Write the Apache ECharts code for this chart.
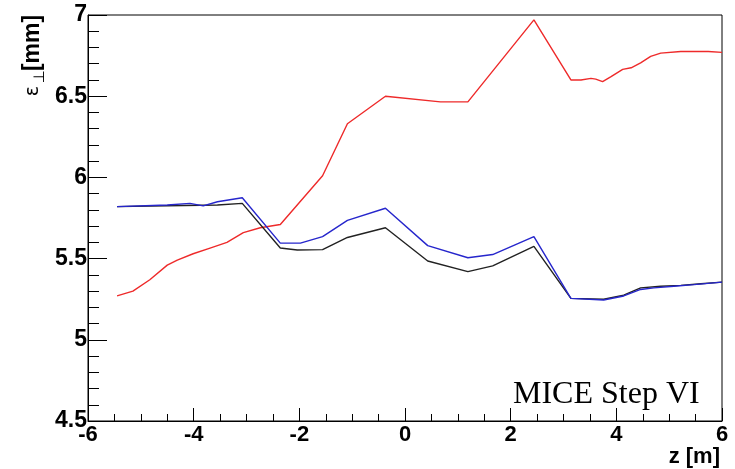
<!DOCTYPE html>
<html><head><meta charset="utf-8">
<script src="https://cdn.jsdelivr.net/npm/echarts@6/dist/echarts.min.js"></script>
<style>html,body{margin:0;padding:0;background:#fff}#c{width:735px;height:469px}</style>
</head><body><div id="c"></div>
<script>
// Emittance vs z, MICE Step VI
const redZ   = [-5.45,-5.15,-4.83,-4.50,-4.31,-4.01,-3.69,-3.37,-3.06,-2.74,-2.36,-1.56,-1.09,-0.37,0.67,1.19,2.44,3.14,3.33,3.52,3.61,3.74,3.90,4.12,4.28,4.46,4.65,4.84,5.22,5.74,6.00];
const redEps = [5.27,5.30,5.37,5.46,5.49,5.53,5.565,5.60,5.66,5.69,5.71,6.01,6.33,6.50,6.465,6.465,6.97,6.60,6.60,6.61,6.605,6.59,6.62,6.665,6.675,6.705,6.745,6.765,6.775,6.775,6.77];

const blueZ   = [-5.45,-4.50,-4.07,-3.82,-3.55,-3.08,-2.36,-1.98,-1.56,-1.09,-0.37,0.43,1.19,1.66,2.44,3.14,3.76,4.14,4.46,4.71,5.09,5.47,6.00];
const blueEps = [5.82,5.83,5.84,5.825,5.85,5.875,5.595,5.595,5.635,5.735,5.81,5.58,5.505,5.525,5.635,5.255,5.245,5.27,5.31,5.32,5.33,5.34,5.355];

const blackZ   = [-5.45,-4.50,-3.55,-3.08,-2.36,-2.04,-1.56,-1.09,-0.37,0.43,1.19,1.66,2.44,3.14,3.76,4.14,4.46,4.84,5.22,5.60,6.00];
const blackEps = [5.82,5.825,5.83,5.84,5.565,5.553,5.555,5.63,5.69,5.485,5.42,5.455,5.575,5.255,5.25,5.275,5.32,5.33,5.335,5.345,5.355];

const xTicks = {min:-6, max:6, interval:2};
const yTicks = {min:4.5, max:7, interval:0.5};

const pairs = (xs, ys) => xs.map((x,i)=>[x, ys[i]]);
const lab = {fontFamily:'"Liberation Sans", Arial, sans-serif', fontWeight:'bold', fontSize:22, color:'#000'};

const chart = echarts.init(document.getElementById('c'), null, {renderer:'canvas'});
chart.setOption({
  animation:false,
  backgroundColor:'#fff',
  grid:{left:88, right:13, top:15, bottom:48, show:true, borderColor:'#000', borderWidth:1, backgroundColor:'transparent'},
  xAxis:{type:'value', min:xTicks.min, max:xTicks.max, interval:xTicks.interval,
    axisLine:{onZero:false, lineStyle:{color:'#000', width:1}},
    axisTick:{inside:true, length:13, lineStyle:{color:'#000'}},
    minorTick:{show:true, splitNumber:4, length:7, lineStyle:{color:'#000'}},
    axisLabel:Object.assign({margin:3}, lab),
    splitLine:{show:false}},
  yAxis:{type:'value', min:yTicks.min, max:yTicks.max, interval:yTicks.interval,
    axisLine:{onZero:false, lineStyle:{color:'#000', width:1}},
    axisTick:{inside:true, length:19, lineStyle:{color:'#000'}},
    minorTick:{show:true, splitNumber:5, length:11, lineStyle:{color:'#000'}},
    axisLabel:Object.assign({margin:1}, lab, {fontSize:23}),
    splitLine:{show:false}},
  series:[
    {type:'line', data:pairs(redZ, redEps), showSymbol:false, lineStyle:{color:'#ee2a2a', width:1.4}, z:2},
    {type:'line', data:pairs(blackZ, blackEps), showSymbol:false, lineStyle:{color:'#222', width:1.4}, z:3},
    {type:'line', data:pairs(blueZ, blueEps), showSymbol:false, lineStyle:{color:'#2626cc', width:1.4}, z:4}
  ],
  graphic:[
    {type:'text', x:513, y:379, style:{text:'MICE Step VI', font:'32px "Liberation Serif", "Times New Roman", serif', fill:'#000'}},
    {type:'text', x:720, y:457, style:{text:'z [m]', font:'bold 22px "Liberation Sans", Arial, sans-serif', fill:'#000', align:'right', verticalAlign:'middle'}},
    {type:'text', x:33, y:43, rotation:Math.PI/2, style:{text:'[mm]', font:'bold 23px "Liberation Sans", Arial, sans-serif', fill:'#000', align:'center', verticalAlign:'middle'}},
    {type:'text', x:40, y:77, rotation:Math.PI/2, style:{text:'⊥', font:'15px "DejaVu Sans", sans-serif', fill:'#000', align:'center', verticalAlign:'middle'}},
    {type:'text', x:33, y:91, rotation:Math.PI/2, style:{text:'ε', font:'19px "DejaVu Sans", sans-serif', fill:'#000', align:'center', verticalAlign:'middle'}}
  ]
});
</script>
</body></html>
